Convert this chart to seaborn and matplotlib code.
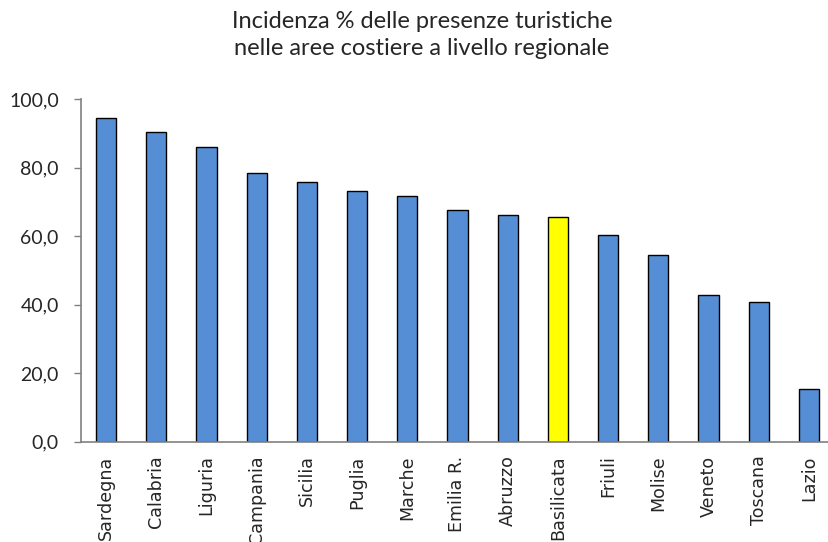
import matplotlib
matplotlib.use("Agg")
import matplotlib.pyplot as plt
import seaborn as sns
import pandas as pd

regions = ["Sardegna", "Calabria", "Liguria", "Campania", "Sicilia", "Puglia",
           "Marche", "Emilia R.", "Abruzzo", "Basilicata", "Friuli", "Molise",
           "Veneto", "Toscana", "Lazio"]
values = [94.4, 90.4, 86.0, 78.5, 75.9, 73.1, 71.6, 67.6, 66.1, 65.5,
          60.4, 54.5, 42.9, 40.6, 15.3]
highlight = "Basilicata"
y_ticks = [0, 20, 40, 60, 80, 100]

sns.set_theme(style="white")
plt.rcParams["font.family"] = ["DejaVu Sans"]

df = pd.DataFrame({"regione": regions, "valore": values})
palette = {r: ("#FFFF00" if r == highlight else "#558ED5") for r in regions}

fig = plt.figure(figsize=(8.29, 5.42), dpi=100)
ax = fig.add_axes([81 / 829, 1 - 441.5 / 542, (834 - 81) / 829, (441.5 - 99) / 542])

sns.barplot(data=df, x="regione", y="valore", hue="regione", palette=palette,
            width=0.4, edgecolor="black", linewidth=1.0, legend=False,
            saturation=1, ax=ax)

ax.set_ylim(0, 100)
ax.set_xlim(-0.5, len(regions) - 0.5)
ax.set_yticks(y_ticks)
ax.set_yticklabels([f"{v:.1f}".replace(".", ",") for v in y_ticks],
                   family="Lato", fontsize=14)
ax.set_xlabel("")
ax.set_ylabel("")

# category labels, with tick marks between categories
ax.set_xticks(range(len(regions)))
ax.set_xticklabels(regions, rotation=90, fontsize=12.6, va="top", ha="center")
ax.tick_params(axis="x", which="major", length=0, pad=10)
ax.set_xticks([i - 0.5 for i in range(len(regions) + 1)], minor=True)
ax.tick_params(axis="x", which="minor", length=5, width=1, color="#808080",
               direction="out")
ax.tick_params(axis="y", length=5, width=1, color="#808080", direction="out",
               left=True, pad=11)

for side in ["top", "right"]:
    ax.spines[side].set_visible(False)
for side in ["left", "bottom"]:
    ax.spines[side].set_color("#808080")
    ax.spines[side].set_linewidth(1.2)
ax.grid(False)

fig.text(422 / 829, 1 - 35 / 542,
         "Incidenza % delle presenze turistiche\nnelle aree costiere a livello regionale",
         ha="center", va="center", fontsize=17, family="Lato",
         linespacing=1.4)

fig.savefig("out.png", dpi=100)
